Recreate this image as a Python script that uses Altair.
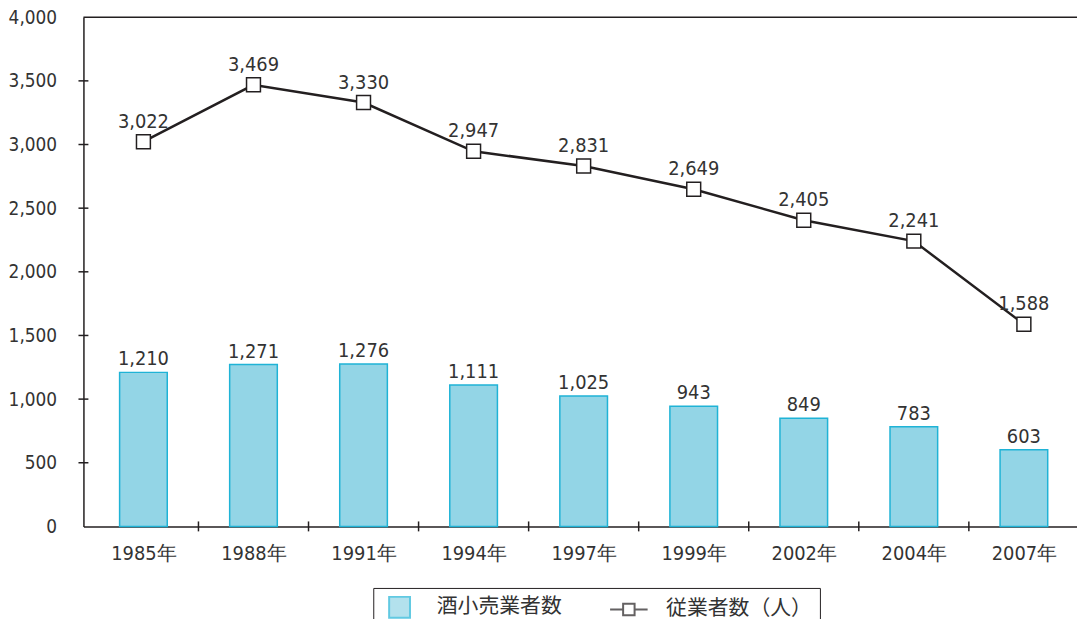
import json
import altair as alt
import pandas as pd

years = ["1985年", "1988年", "1991年", "1994年", "1997年", "1999年", "2002年", "2004年", "2007年"]
shops = [1210, 1271, 1276, 1111, 1025, 943, 849, 783, 603]
workers = [3022, 3469, 3330, 2947, 2831, 2649, 2405, 2241, 1588]
y_tick_values = [500, 1000, 1500, 2000, 2500, 3000, 3500]
y_label_values = [0, 500, 1000, 1500, 2000, 2500, 3000, 3500, 4000]
SHOP = "酒小売業者数"
WORK = "従業者数（人）"

W, H = 1001, 513
BAND_PX = 112
FONT = "Liberation Sans Narrow, DejaVu Sans Condensed, sans-serif"
CJK = "Noto Sans CJK JP"
TXT = "#333333"
DARK = "#231f20"
BAR_FILL = "#93d5e6"
BAR_STROKE = "#1fb3d6"
LINE_SYMBOL = "M-1.8,0H-0.55M0.55,0H1.8M-0.55,-0.55H0.55V0.55H-0.55Z"

idx = list(range(len(years)))
bars_df = pd.DataFrame({"idx": idx, "year": years, "value": shops, "series": SHOP})
line_df = pd.DataFrame({"idx": idx, "year": years, "value": workers, "series": WORK})
ytick_df = pd.DataFrame({"v": y_tick_values})
xtick_df = pd.DataFrame({"b": [i + 0.5 for i in idx[:-1]]})
top_df = pd.DataFrame({"k": [0]})

# each category occupies a 112px slot; the last slot runs past the right edge as in the original
x_scale = alt.Scale(domain=[-0.5, -0.5 + W / BAND_PX], nice=False, zero=False)
y_scale = alt.Scale(domain=[0, 4000], nice=False)

label_expr = json.dumps(years, ensure_ascii=False) + "[datum.value]"

x_enc = alt.X("idx:Q", scale=x_scale,
              axis=alt.Axis(title=None, values=idx, labelExpr=label_expr, labelAngle=0,
                            ticks=False, grid=False, labelFlush=False, labelOverlap=False,
                            domainColor=DARK, domainWidth=1.5, labelFont=FONT,
                            labelFontSize=20, labelColor=TXT, labelPadding=17))
y_enc = alt.Y("value:Q", scale=y_scale,
              axis=alt.Axis(title=None, values=y_label_values, format=",d", ticks=False,
                            grid=False, domainColor=DARK, domainWidth=1.5,
                            labelFont=FONT, labelFontSize=19, labelColor=TXT,
                            labelPadding=27))

legend = alt.Legend(title=None, orient="none", legendX=292, legendY=575,
                    direction="horizontal", symbolSize=441, symbolStrokeWidth=2,
                    labelFont=CJK, labelFontSize=21, labelColor=TXT, labelOffset=26,
                    columnPadding=44, padding=8, symbolOffset=7, strokeColor=DARK,
                    fillColor="white")

fill_scale = alt.Scale(domain=[SHOP, WORK], range=[BAR_FILL, "white"])
stroke_scale = alt.Scale(domain=[SHOP, WORK], range=[BAR_STROKE, DARK])
shape_scale = alt.Scale(domain=[SHOP, WORK], range=["square", LINE_SYMBOL])

x_plain = alt.X("idx:Q", scale=x_scale)
y_plain = alt.Y("value:Q", scale=y_scale)

bars = alt.Chart(bars_df).mark_bar(width=48, strokeWidth=1.5).encode(
    x=x_enc, y=y_enc,
    fill=alt.Fill("series:N", scale=fill_scale, legend=legend),
    stroke=alt.Stroke("series:N", scale=stroke_scale, legend=legend),
)

bar_text = alt.Chart(bars_df).mark_text(font=FONT, fontSize=20, color=TXT, dy=-7,
                                        baseline="alphabetic").encode(
    x=x_plain, y=y_plain,
    text=alt.Text("value:Q", format=",d"),
)

line = alt.Chart(line_df).mark_line(strokeWidth=2.5).encode(
    x=x_plain, y=y_plain,
    stroke=alt.Stroke("series:N", scale=stroke_scale, legend=legend),
)

# legend-only layer (draws nothing) carrying the shape channel for the legend symbols
legend_shapes = alt.Chart(line_df).transform_filter("false").mark_point(filled=True).encode(
    x=x_plain, y=y_plain,
    fill=alt.Fill("series:N", scale=fill_scale, legend=legend),
    stroke=alt.Stroke("series:N", scale=stroke_scale, legend=legend),
    shape=alt.Shape("series:N", scale=shape_scale, legend=legend),
)

points = alt.Chart(line_df).mark_point(shape="square", filled=True, size=196, strokeWidth=1.5,
                                       opacity=1, fill="white", stroke=DARK).encode(
    x=x_plain, y=y_plain,
)

line_text = alt.Chart(line_df).mark_text(font=FONT, fontSize=20, color=TXT, dy=-14,
                                         baseline="alphabetic").encode(
    x=x_plain, y=y_plain,
    text=alt.Text("value:Q", format=",d"),
)

xticks = alt.Chart(xtick_df).mark_rule(color=DARK, strokeWidth=1.5).encode(
    x=alt.X("b:Q", scale=x_scale),
    y=alt.value(H - 5), y2=alt.value(H + 5),
)

yticks = alt.Chart(ytick_df).mark_rule(color=DARK, strokeWidth=1.5).encode(
    y=alt.Y("v:Q", scale=y_scale),
    x=alt.value(-5), x2=alt.value(5),
)

top_line = alt.Chart(top_df).mark_rule(color=DARK, strokeWidth=1.5).encode(
    x=alt.value(0), x2=alt.value(W + 20), y=alt.value(0),
)

chart = alt.layer(bars, bar_text, line, legend_shapes, points, line_text, xticks, yticks,
                  top_line).properties(
    width=W, height=H,
    autosize=alt.AutoSizeParams(type="none"),
    padding={"left": 76, "top": 7, "right": 0, "bottom": 91},
).configure_view(stroke=None)

chart.save("out.html", embed_options={"renderer": "svg", "actions": False})
